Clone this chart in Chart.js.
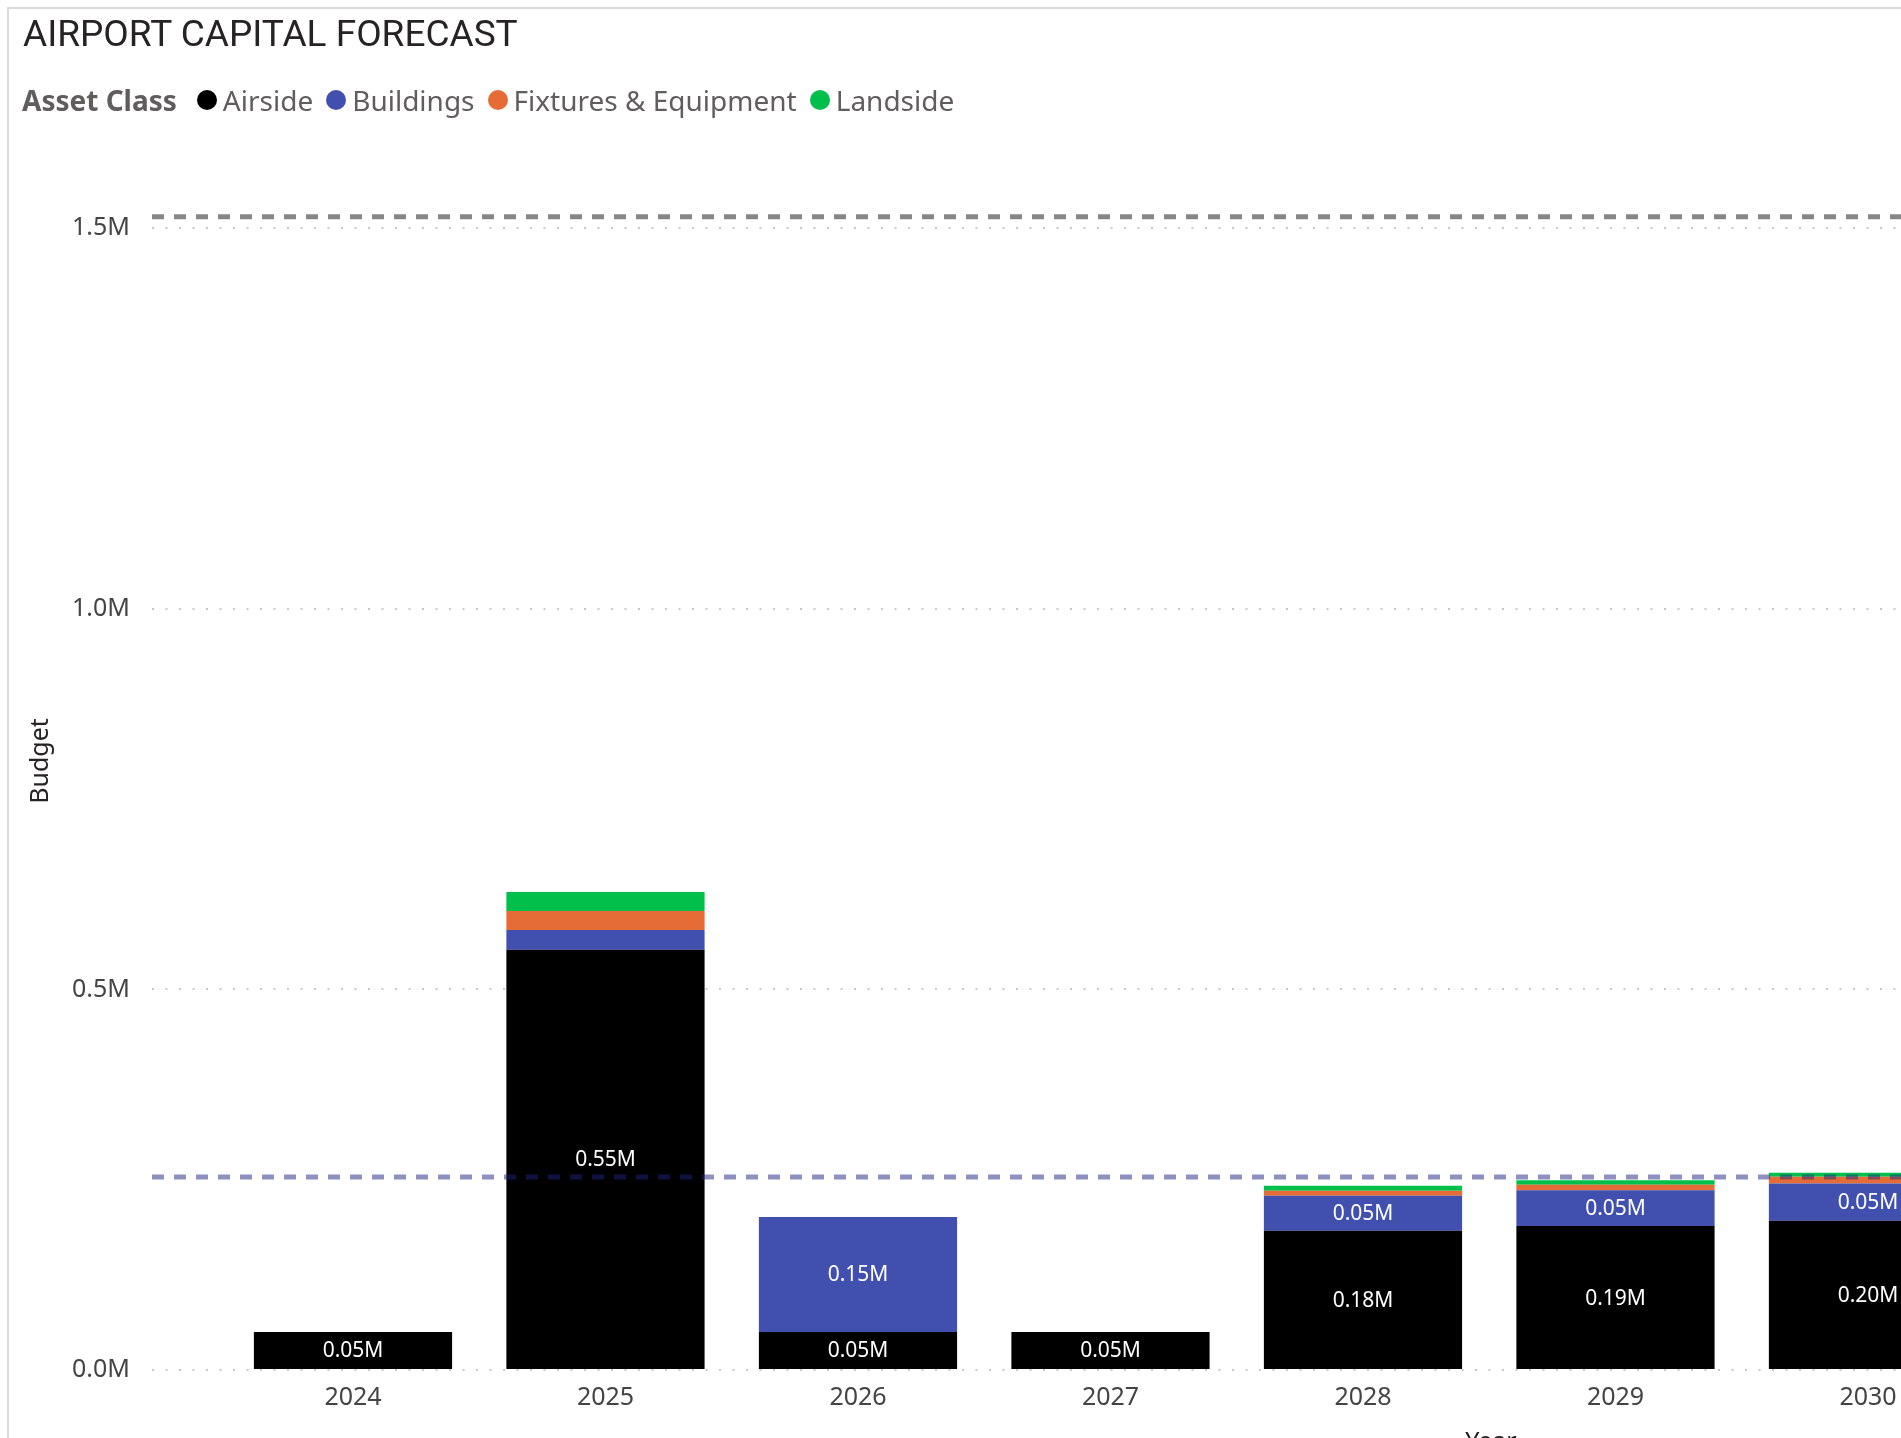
<!DOCTYPE html>
<html>
<head>
<meta charset="utf-8">
<title>Airport Capital Forecast</title>
<script src="https://cdn.jsdelivr.net/npm/chart.js@4.4.1/dist/chart.umd.min.js"></script>
<style>
  html, body { margin: 0; padding: 0; width: 1901px; height: 1438px; overflow: hidden; background: #fff; font-family: "Noto Sans", sans-serif; }
  #frame { position: absolute; left: 7px; top: 7px; width: 2000px; height: 1500px; border-top: 2px solid #dadada; border-left: 2px solid #dadada; }
  #chart { position: absolute; left: 0; top: 0; }
  #title { position: absolute; left: 23px; top: 12px; font: 37px Roboto, sans-serif; color: #252423; white-space: nowrap; }
  #legend { position: absolute; left: 22px; top: 81px; height: 38px; display: flex; align-items: center; font-size: 28px; color: #605e5c; white-space: nowrap; }
  #legend b { margin-right: 20px; }
  .item { display: flex; align-items: center; margin-right: 13px; }
  .dot { width: 20px; height: 20px; border-radius: 50%; margin-right: 6px; }
</style>
</head>
<body>
<div id="frame"></div>
<canvas id="chart" width="2840" height="1500"></canvas>
<div id="title">AIRPORT CAPITAL FORECAST</div>
<div id="legend"><b>Asset Class</b></div>

<script>
// data (budget in dollars)
const years = [2024, 2025, 2026, 2027, 2028, 2029, 2030];
const assetClasses = ["Airside", "Buildings", "Fixtures & Equipment", "Landside"];
const classColors = ["#000000", "#4150ae", "#e66c37", "#00c04b"];
const airside    = [50000, 552000, 50000, 50000, 183000, 189000, 196000];
const buildings  = [0, 26000, 151000, 0, 46000, 47000, 49000];
const fixtures   = [0, 25000, 0, 0, 6600, 7500, 8700];
const landside   = [0, 25000, 0, 0, 6600, 5700, 5300];
const yTicks = [0, 500000, 1000000, 1500000];

// dashed reference lines
const refLines = [1515000, 253500];
const refColors = ["rgba(0, 0, 0, 0.47)", "rgba(30, 35, 130, 0.5)"];

const textColor = "#444444";
const font = "'Noto Sans', sans-serif";

// html legend
const legend = document.getElementById("legend");
assetClasses.forEach((name, i) => {
    const item = document.createElement("span");
    item.className = "item";
    item.innerHTML = '<span class="dot" style="background:' + classColors[i] + '"></span>' + name.replace("&", "&amp;");
    legend.appendChild(item);
});

const series = [airside, buildings, fixtures, landside];

// reference lines + value labels inside the segments
const overlay = {
    id: "overlay",
    afterDatasetsDraw(chart) {
        const ctx = chart.ctx;
        const area = chart.chartArea;
        const y = chart.scales.y;
        ctx.save();
        ctx.lineWidth = 5;
        ctx.setLineDash([12, 10]);
        refLines.forEach((v, i) => {
            const py = y.getPixelForValue(v);
            ctx.strokeStyle = refColors[i];
            ctx.beginPath();
            ctx.moveTo(area.left, py);
            ctx.lineTo(area.right, py);
            ctx.stroke();
        });
        ctx.setLineDash([]);

        ctx.font = "21px " + font;
        ctx.fillStyle = "#ffffff";
        ctx.textAlign = "center";
        ctx.textBaseline = "middle";
        chart.data.datasets.forEach((ds, i) => {
            chart.getDatasetMeta(i).data.forEach((bar, j) => {
                const v = ds.data[j].y;
                if (!v || Math.abs(bar.base - bar.y) < 28) return;
                ctx.fillText((v / 1e6).toFixed(2) + "M", bar.x, (bar.y + bar.base) / 2 + 1);
            });
        });
        ctx.restore();
    }
};

new Chart(document.getElementById("chart"), {
    type: "bar",
    data: {
        datasets: assetClasses.map((name, i) => ({
            label: name,
            data: years.map((yr, j) => ({ x: yr, y: series[i][j] })),
            backgroundColor: classColors[i],
            borderWidth: 0,
            categoryPercentage: 1,
            barPercentage: 0.785
        }))
    },
    options: {
        responsive: false,
        animation: false,
        layout: { padding: { left: 0, top: 152, right: 10, bottom: 0 } },
        plugins: {
            legend: { display: false },
            tooltip: { enabled: false }
        },
        scales: {
            x: {
                type: "linear",
                stacked: true,
                offset: false,
                min: 2023.204,
                max: 2033.81,
                grid: { display: false, drawTicks: false },
                border: { display: false },
                afterBuildTicks: s => { s.ticks = years.map(v => ({ value: v })); },
                afterFit: s => { s.height = 130; },
                ticks: {
                    autoSkip: false,
                    maxRotation: 0,
                    padding: 13,
                    color: textColor,
                    font: { family: font, size: 25 },
                    callback: v => String(v)
                },
                title: {
                    display: true,
                    text: "Year",
                    color: "#252423",
                    font: { family: font, size: 25 },
                    padding: { top: 0, bottom: 42 }
                }
            },
            y: {
                stacked: true,
                min: 0,
                max: 1600000,
                grid: { color: "#c9c9c9", lineWidth: 2, drawTicks: false },
                border: { display: false, dash: [2, 11.5] },
                afterBuildTicks: s => { s.ticks = yTicks.map(v => ({ value: v })); },
                afterFit: s => { s.width = 152; },
                ticks: {
                    padding: 22,
                    color: textColor,
                    font: { family: font, size: 25 },
                    callback: v => (v / 1e6).toFixed(1) + "M"
                },
                title: {
                    display: true,
                    text: "Budget",
                    color: "#252423",
                    font: { family: font, size: 25 },
                    padding: { top: 26, bottom: 0 }
                }
            }
        }
    },
    plugins: [overlay]
});
</script>
</body>
</html>
